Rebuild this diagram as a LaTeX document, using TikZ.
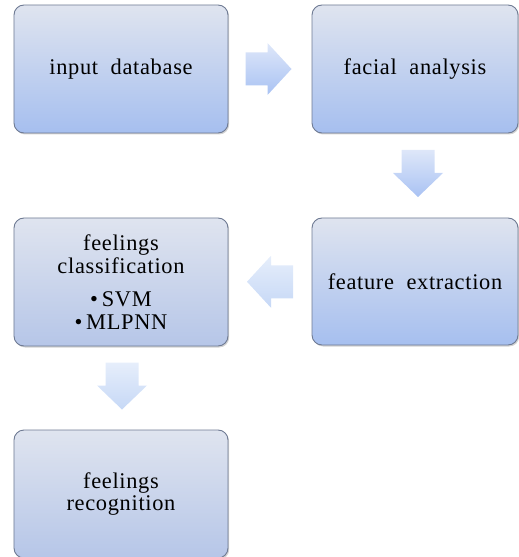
\documentclass[tikz,border=0pt]{standalone}
\usepackage{fontspec}
\setmainfont[LetterSpace=3]{Liberation Serif}
\usetikzlibrary{shadows,calc}
\definecolor{boxtop}{HTML}{DFE4EF}
\definecolor{boxbot}{HTML}{A6BFEF}
\definecolor{boxbotgray}{HTML}{B6C6E8}
\definecolor{boxline}{HTML}{6E7A93}
\definecolor{arrtop}{HTML}{DEE7F9}
\definecolor{arrbot}{HTML}{A9C2F3}
\definecolor{arrtoplight}{HTML}{E6EEFB}
\definecolor{arrbotlight}{HTML}{C6D8F6}
\begin{document}
\begin{tikzpicture}[x=1bp,y=-1bp,
  box/.style={draw=boxline, line width=0.9bp, rounded corners=10bp,
    top color=boxtop, bottom color=boxbot,
    minimum width=214bp, minimum height=128bp, inner sep=0pt,
    align=center, text=black, font=\fontsize{22.5}{23}\selectfont,
    drop shadow={shadow xshift=1.2bp, shadow yshift=-1.5bp, opacity=0.35}},
  grayish/.style={bottom color=boxbotgray},
  barrow/.style={draw=none, top color=arrtop, bottom color=arrbot},
  lightarrow/.style={top color=arrtoplight, bottom color=arrbotlight},
]
\useasboundingbox (0,0) rectangle (519,557);
\node[box] (ib) at (121,69) {input\ \ database};
\node[box, minimum width=206bp] (fa) at (415,69) {facial\ \ analysis};
\node[box, minimum width=206bp, minimum height=127bp] (fe) at (415,281.5) {feature\ \ extraction};
\node[box, grayish] (fc) at (121,282) {feelings\\classification\\[10bp]\textbullet\,SVM\\\textbullet\,MLPNN};
\node[box, grayish] (fr) at (121,494) {feelings\\recognition};
% midpoints between the boxes
\coordinate (m1) at ($(ib.east)!0.5!(fa.west)+(-1.5,0)$);
\coordinate (m2) at ($(fa.south)!0.5!(fe.north)+(3,-2)$);
\coordinate (m3) at ($(fe.west)!0.5!(fc.east)$);
\coordinate (m4) at ($(fc.south)!0.5!(fr.north)+(1,-2)$);
% right arrow
\path[barrow] (m1) ++(-23,-16.5) -- ++(22,0) -- ++(0,-9.5) -- ++(24,26)
  -- ++(-24,26) -- ++(0,-9.5) -- ++(-22,0) -- cycle;
% down arrow
\path[barrow] (m2) ++(-16.5,-23.5) -- ++(33,0) -- ++(0,23) -- ++(8.5,0)
  -- ++(-25,24) -- ++(-25,-24) -- ++(8.5,0) -- cycle;
% left arrow
\path[barrow, lightarrow] (m3) ++(23,-16.5) -- ++(-22,0) -- ++(0,-9.5)
  -- ++(-24,26) -- ++(24,26) -- ++(0,-9.5) -- ++(22,0) -- cycle;
% down arrow
\path[barrow, lightarrow] (m4) ++(-16.5,-23.5) -- ++(33,0) -- ++(0,23)
  -- ++(8.5,0) -- ++(-25,24) -- ++(-25,-24) -- ++(8.5,0) -- cycle;
\end{tikzpicture}
\end{document}
